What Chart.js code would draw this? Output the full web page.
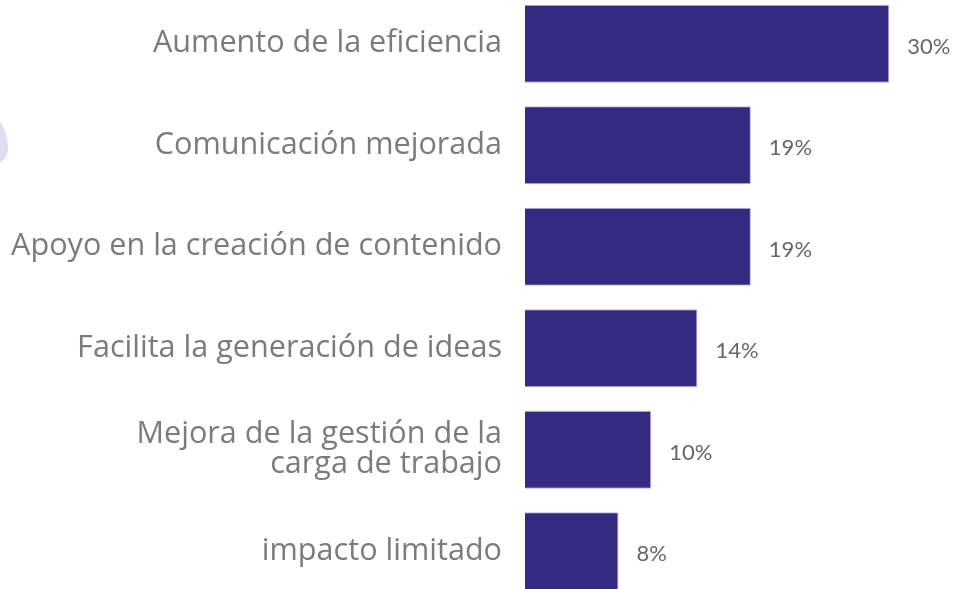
<!DOCTYPE html>
<html>
<head>
<meta charset="utf-8">
<script src="https://cdn.jsdelivr.net/npm/chart.js@4"></script>
<style>
  html, body { margin: 0; padding: 0; background: #fff; overflow: hidden; }
  #wrap { position: absolute; left: 0; top: -7px; width: 955px; height: 609px; }
  #blob { position: absolute; left: -30px; top: 116px; width: 38px; height: 50px;
          border-radius: 50% 50% 50% 50% / 65% 65% 35% 35%; background: #dcdff0; }
</style>
</head>
<body>
<div id="blob"></div>
<div id="wrap"><canvas id="chart"></canvas></div>
<script>
// Categories and values (percent)
const categories = [
  "Aumento de la eficiencia",
  "Comunicación mejorada",
  "Apoyo en la creación de contenido",
  "Facilita la generación de ideas",
  ["Mejora de la gestión de la", "carga de trabajo"],
  "impacto limitado",
];
const values = [30, 18.6, 18.6, 14.2, 10.4, 7.7];
const valueLabels = ["30%", "19%", "19%", "14%", "10%", "8%"];

// Draw value text to the right of each bar
const valueText = {
  id: "valueText",
  afterDatasetsDraw(chart) {
    const ctx = chart.ctx;
    const meta = chart.getDatasetMeta(0);
    ctx.save();
    ctx.font = "22px Lato, sans-serif";
    ctx.fillStyle = "#666666";
    ctx.textAlign = "left";
    ctx.textBaseline = "middle";
    meta.data.forEach((bar, i) => {
      ctx.fillText(valueLabels[i], bar.x + 18, bar.y + 3);
    });
    ctx.restore();
  },
};

new Chart(document.getElementById("chart"), {
  type: "bar",
  data: {
    labels: categories,
    datasets: [
      {
        data: values,
        backgroundColor: "#332a82",
        borderColor: "#b9b4e2",
        borderWidth: 1,
        barPercentage: 0.77,
        categoryPercentage: 1,
      },
    ],
  },
  options: {
    indexAxis: "y",
    responsive: true,
    maintainAspectRatio: false,
    animation: false,
    layout: { padding: { top: 0, bottom: 0, left: 0, right: 5 } },
    plugins: {
      legend: { display: false },
      tooltip: { enabled: false },
    },
    scales: {
      x: {
        display: false,
        min: 0,
        max: 35,
      },
      y: {
        border: { display: false },
        grid: { display: false, drawTicks: false },
        ticks: {
          color: "#777c7d",
          padding: 23,
          font: { family: "'Open Sans', sans-serif", size: 30.6, lineHeight: 0.98 },
        },
        afterFit(scale) {
          scale.width = 525;
          scale.paddingTop = 0;
          scale.paddingBottom = 0;
        },
      },
    },
  },
  plugins: [valueText],
});
</script>
</body>
</html>
